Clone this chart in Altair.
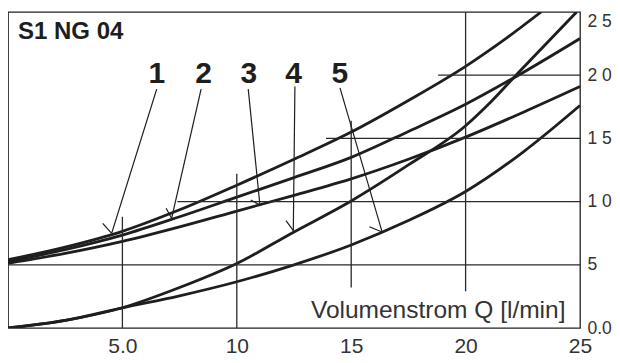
import altair as alt
import pandas as pd

chart_title = "S1 NG 04"
x_axis_title = "Volumenstrom Q [l/min]"

curve_labels = ["1", "2", "3", "4", "5"]

q_1 = [0, 2.5, 5, 7.5, 10, 12.5, 15, 17.5, 20, 21.8, 23.3]
p_1 = [5.4, 6.4, 7.65, 9.35, 11.3, 13.35, 15.5, 18.0, 20.7, 22.95, 25.0]

q_2 = [0, 2.5, 5, 7.5, 10, 12.5, 15, 17.5, 20, 22.5, 25]
p_2 = [5.25, 6.2, 7.35, 8.8, 10.35, 11.9, 13.5, 15.55, 17.7, 20.2, 22.9]

q_3 = [0, 2.5, 5, 7.5, 10, 12.5, 15, 17.5, 20, 22.5, 25]
p_3 = [5.12, 5.9, 6.85, 8.0, 9.25, 10.5, 11.8, 13.35, 15.1, 17.05, 19.1]

q_4 = [0, 2.5, 5, 7.5, 10, 12.5, 15, 17.5, 20, 21, 22.2, 24.85]
p_4 = [0, 0.6, 1.6, 3.2, 5.1, 7.6, 10.05, 12.9, 16.0, 17.7, 20.0, 25.0]

q_5 = [0, 2.5, 5, 7.5, 10, 12.5, 15, 17.5, 20, 22.5, 25]
p_5 = [0, 0.6, 1.6, 2.55, 3.66, 5.0, 6.57, 8.5, 10.8, 13.9, 17.6]

x_tick_values = [5, 10, 15, 20, 25]
x_tick_labels = ["5.0", "10", "15", "20", "25"]
y_tick_values = [0, 5, 10, 15, 20, 25]
y_tick_labels = ["0.0", "5", "1 0", "1 5", "2 0", "2 5"]

# partial grid segments (data units)
vgrid_x = [5, 10, 15, 20]
vgrid_y_from = [0, 0, 3.2, 2.9]
vgrid_y_to = [8.8, 12.2, 16.4, 25]
hgrid_y = [5, 10, 15, 20]
hgrid_x_from = [0, 7.4, 13.9, 18.8]
hgrid_x_to = [25, 25, 25, 25]

# curve number labels and leader lines (data units)
label_x = [6.5, 8.55, 10.53, 12.48, 14.5]
label_y = [19.35, 19.35, 19.35, 19.35, 19.35]
leader_x_from = [6.5, 8.44, 10.5, 12.54, 14.51]
leader_y_from = [18.9, 18.9, 18.9, 19.1, 19.0]
leader_x_to = [4.53, 7.15, 11.01, 12.47, 16.35]
leader_y_to = [7.49, 8.68, 9.73, 7.7, 7.6]
barb_x = [4.14, 6.91, 10.61, 12.15, 15.79]
barb_y = [8.28, 9.47, 10.13, 8.49, 8.01]

# ---- build tables ----
rows = []
for lab, qs, ps in zip(curve_labels, [q_1, q_2, q_3, q_4, q_5], [p_1, p_2, p_3, p_4, p_5]):
    for i, (q, p) in enumerate(zip(qs, ps)):
        rows.append({"curve": lab, "q": q, "p": p, "order": i})
curves_df = pd.DataFrame(rows)

vgrid_df = pd.DataFrame({"q": vgrid_x, "p": vgrid_y_from, "p2": vgrid_y_to})
hgrid_df = pd.DataFrame({"p": hgrid_y, "q": hgrid_x_from, "q2": hgrid_x_to})
labels_df = pd.DataFrame({"q": label_x, "p": label_y, "t": curve_labels})
leader_df = pd.DataFrame({"q": leader_x_from, "p": leader_y_from, "q2": leader_x_to, "p2": leader_y_to})
barb_df = pd.DataFrame({"q": leader_x_to, "p": leader_y_to, "q2": barb_x, "p2": barb_y})
title_df = pd.DataFrame({"t": [chart_title]})


def label_expr(values, labels):
    expr = "''"
    for v, l in reversed(list(zip(values, labels))):
        expr = f"datum.value == {v} ? '{l}' : ({expr})"
    return expr


xs = alt.Scale(domain=[0, 25], nice=False, zero=False)
ys = alt.Scale(domain=[0, 25], nice=False, zero=False)

tick_font = "Liberation Sans"
ink = "#1e1e1e"
grid_col = "#2a2a2a"

x_axis = alt.Axis(
    values=x_tick_values,
    labelExpr=label_expr(x_tick_values, x_tick_labels),
    domain=False, ticks=False, grid=False,
    labelFont=tick_font, labelFontSize=21, labelColor="#333",
    labelPadding=7, labelOverlap=False, labelFlush=False,
    title=x_axis_title, titleFont="Liberation Sans", titleFontSize=24.5,
    titleFontWeight="normal", titleColor="#333",
    titleX=557, titleY=-11, titleAlign="right", titleBaseline="alphabetic",
    titleAnchor="end",
)
y_axis = alt.Axis(
    orient="right",
    values=y_tick_values,
    labelExpr=label_expr(y_tick_values, y_tick_labels),
    domain=False, ticks=False, grid=False,
    labelFont=tick_font, labelFontSize=17.5, labelColor="#333",
    labelPadding=7, labelOverlap=False, labelFlush=False, labelAlign="left",
    labelBaseline={"condition": {"test": "datum.value == 25", "value": "top"}, "value": "middle"},
    title=None,
)

X = alt.X("q:Q", scale=xs, axis=x_axis)
Y = alt.Y("p:Q", scale=ys, axis=y_axis)

curves = alt.Chart(curves_df).mark_line(
    interpolate="monotone", strokeWidth=2.8, color=ink, clip=True
).encode(x=X, y=Y, detail="curve:N", order="order:Q")

vgrid = alt.Chart(vgrid_df).mark_rule(strokeWidth=1.3, color=grid_col).encode(
    x=X, y=Y, y2="p2:Q"
)
hgrid = alt.Chart(hgrid_df).mark_rule(strokeWidth=1.3, color=grid_col).encode(
    y=Y, x=X, x2="q2:Q"
)
leaders = alt.Chart(leader_df).mark_rule(strokeWidth=1.2, color=ink).encode(
    x=X, y=Y, x2="q2:Q", y2="p2:Q"
)
barbs = alt.Chart(barb_df).mark_rule(strokeWidth=1.2, color=ink).encode(
    x=X, y=Y, x2="q2:Q", y2="p2:Q"
)
num_labels = alt.Chart(labels_df).mark_text(
    font="Liberation Sans", fontSize=30, fontWeight="bold", color=ink,
    align="center", baseline="alphabetic"
).encode(x=X, y=Y, text="t:N")

title_text = alt.Chart(title_df).mark_text(
    font="Liberation Sans", fontSize=24, fontWeight="bold", color=ink,
    align="left", baseline="top"
).encode(x=alt.value(10), y=alt.value(8), text="t:N")

chart = alt.layer(
    curves, vgrid, hgrid, leaders, barbs, num_labels, title_text
).properties(
    width=572, height=316,
    autosize=alt.AutoSizeParams(type="none"),
    padding={"left": 0, "top": 4, "right": 32, "bottom": 27},
).configure_view(
    stroke="#222", strokeWidth=1.3
)

chart.save("out.html", embed_options={"renderer": "svg", "actions": False})
